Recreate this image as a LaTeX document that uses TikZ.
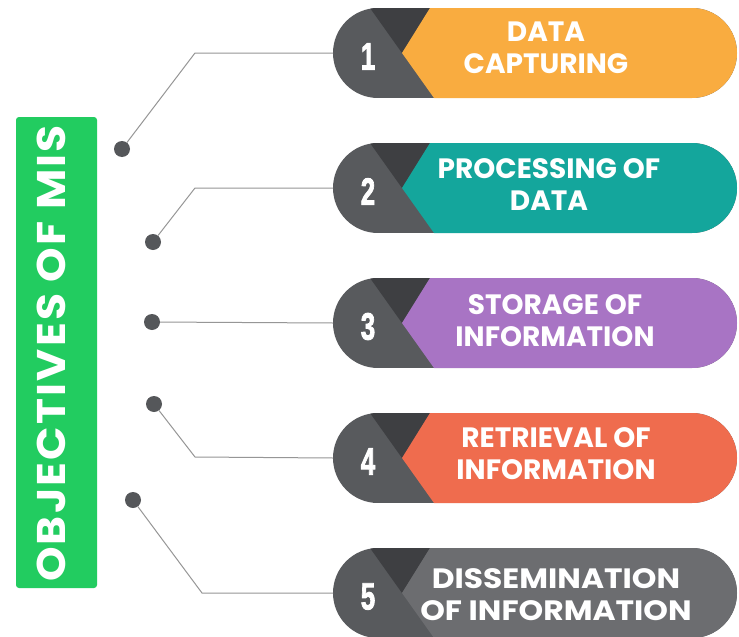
\documentclass[tikz,border=0pt]{standalone}
\usepackage{fontspec}
\setmainfont{Poppins}
\newfontfamily\numfont[BoldFeatures={FakeBold=2.5}]{Liberation Sans}
\definecolor{cOrange}{RGB}{249,172,64}
\definecolor{cTeal}{RGB}{20,166,156}
\definecolor{cPurple}{RGB}{168,116,196}
\definecolor{cRed}{RGB}{239,108,78}
\definecolor{cGrayFive}{RGB}{108,109,112}
\definecolor{cLeft}{RGB}{88,90,93}
\definecolor{cDark}{RGB}{62,63,66}
\definecolor{cGreen}{RGB}{34,204,96}
\definecolor{cLine}{RGB}{150,150,150}
\definecolor{cDot}{RGB}{85,87,90}
\begin{document}
\begin{tikzpicture}[x=1pt,y=-1pt,
  dotnode/.style={circle,fill=cDot,inner sep=0pt,minimum size=16pt},
  wire/.style={draw=cLine,line width=1pt},
  pilltext/.style={text=white,font=\fontsize{28}{32}\selectfont\bfseries,align=center,inner sep=0pt},
  numtext/.style={text=white,font=\fontsize{38}{38}\selectfont\numfont\bfseries,inner sep=0pt},
  titletext/.style={text=white,font=\fontsize{40}{40}\selectfont\bfseries\addfontfeatures{LetterSpace=5},inner sep=0pt}]
\useasboundingbox (0,0) rectangle (739,637);
\fill[white] (0,0) rectangle (739,637);
% green title bar
\node[fill=cGreen,rounded corners=3pt,minimum width=81pt,minimum height=471pt,inner sep=0pt] (bar) at (56.5,352.5) {};
\node[titletext,rotate=90,xscale=1.1] (title) at (51.5,353.5) {OBJECTIVES OF MIS};
% pills
\foreach \i/\col/\tx/\ty/\sx/\txt in {1/cOrange/546/47.5/1/{DATA\\CAPTURING},2/cTeal/549/185/1/{PROCESSING OF\\DATA},3/cPurple/555/320.5/1/{STORAGE OF\\INFORMATION},4/cRed/556/453.5/1/{RETRIEVAL OF\\INFORMATION},5/cGrayFive/556/595/1.12/{DISSEMINATION\\OF INFORMATION}}{
  \pgfmathsetmacro{\t}{8+135*(\i-1)}
  \pgfmathsetmacro{\b}{\t+90}
  \pgfmathsetmacro{\m}{\t+45}
  \pgfmathsetmacro{\nm}{\t+48.5}
  \begin{scope}
    \clip[rounded corners=45pt] (333,\t) rectangle (737,\b);
    \fill[cLeft] (330,\t) rectangle (740,\b);
    \fill[cDark] (370,\t) -- (430,\t) -- (402,\m) -- cycle;
    \fill[\col] (430,\t) -- (740,\t) -- (740,\b) -- (434,\b) -- (402,\m) -- cycle;
  \end{scope}
  \coordinate (p\i) at (333,\m);
  \node[numtext,xscale=0.68] (n\i) at (368,\nm) {\i};
  \node[pilltext,xscale=\sx] (t\i) at (\tx,\ty) {\txt};
}
% bend points and dots
\coordinate (b1) at (195,53);
\coordinate (b2) at (195,188);
\coordinate (b4) at (195,457);
\coordinate (b5) at (202,593);
\node[dotnode] (d1) at (122,149) {};
\node[dotnode] (d2) at (153,242) {};
\node[dotnode] (d3) at (152,322) {};
\node[dotnode] (d4) at (154,404) {};
\node[dotnode] (d5) at (133,500) {};
\draw[wire] (d1) -- (b1) -- (p1);
\draw[wire] (d2) -- (b2) -- (p2);
\draw[wire] (d3) -- (p3);
\draw[wire] (d4) -- (b4) -- (p4);
\draw[wire] (d5) -- (b5) -- (p5);
\end{tikzpicture}
\end{document}
